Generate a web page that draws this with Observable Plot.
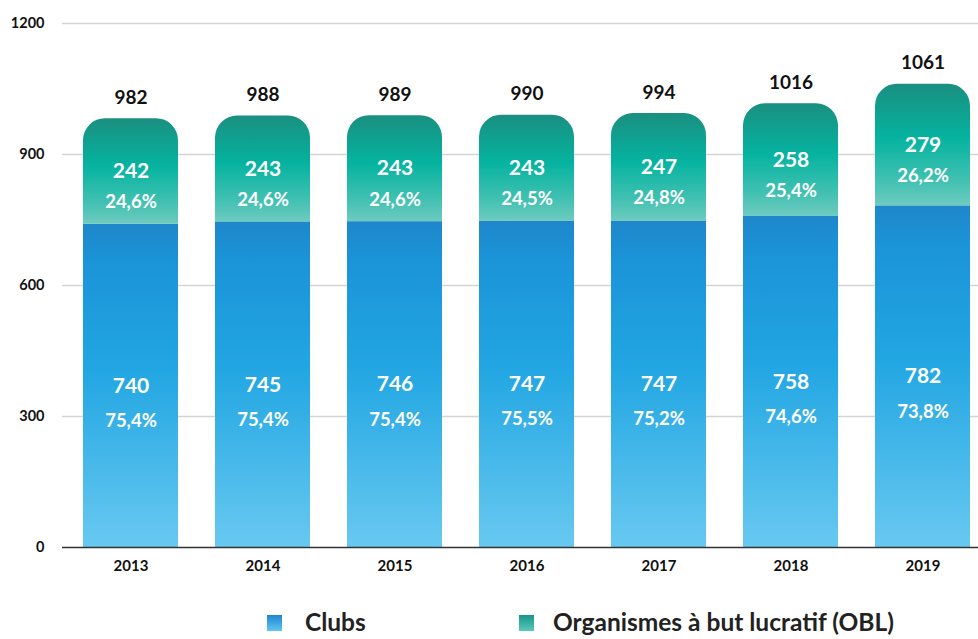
<!DOCTYPE html>
<html><head><meta charset="utf-8">
<script src="https://cdn.jsdelivr.net/npm/d3@7"></script>
<script src="https://cdn.jsdelivr.net/npm/@observablehq/plot@0.6"></script>
<style>
body{margin:0;background:#fff;overflow:hidden;font-family:Lato,sans-serif;}
#wrap{position:relative;width:978px;height:639px;overflow:hidden;background:#fff;}
.lg{position:absolute;font-weight:700;font-size:24.5px;color:#222;line-height:25px;white-space:nowrap;}
.sw{position:absolute;width:15px;height:16px;}
</style></head>
<body>
<div id="wrap">
  <div id="chart"></div>
  <div class="sw" style="left:267px;top:615px;background:linear-gradient(#1e86d0,#62c6f0);"></div>
  <div class="lg" id="lg1" style="left:305px;top:609px;"></div>
  <div class="sw" style="left:519px;top:615px;background:linear-gradient(#17958a,#5cc8bb);"></div>
  <div class="lg" id="lg2" style="left:553px;top:609px;"></div>
</div>
<script>
const years = ["2013","2014","2015","2016","2017","2018","2019"];
const clubs = [740,745,746,747,747,758,782];
const obl = [242,243,243,243,247,258,279];
const totals = [982,988,989,990,994,1016,1061];
const clubsPct = ["75,4%","75,4%","75,4%","75,5%","75,2%","74,6%","73,8%"];
const oblPct = ["24,6%","24,6%","24,6%","24,5%","24,8%","25,4%","26,2%"];
const yTicks = [0,300,600,900,1200];
const seriesNames = ["Clubs","Organismes à but lucratif (OBL)"];

document.getElementById("lg1").textContent = seriesNames[0];
document.getElementById("lg2").textContent = seriesNames[1];

const data = years.map((y,i)=>({year:y, clubs:clubs[i], obl:obl[i], total:totals[i], cp:clubsPct[i], op:oblPct[i]}));

function defs(){
  const d = d3.create("svg:defs");
  const mk = (id, stops) => {
    const g = d.append("linearGradient").attr("id", id).attr("x1",0).attr("y1",0).attr("x2",0).attr("y2",1);
    stops.forEach(([o,c]) => g.append("stop").attr("offset",o).attr("stop-color",c));
  };
  mk("gClubs", [[0,"#1e87ca"],[0.12,"#1b94d8"],[0.45,"#22a6e2"],[1,"#68c9f1"]]);
  mk("gObl", [[0,"#1a8f80"],[0.45,"#05b3a0"],[0.8,"#42c1b2"],[1,"#6ecbbf"]]);
  return d.node();
}

function roundTop(r){
  return (index, scales, values, dims, ctx, next) => {
    const g = next(index, scales, values, dims, ctx);
    d3.select(g).selectAll("rect").each(function(){
      const x=+this.getAttribute("x"), y=+this.getAttribute("y"), w=+this.getAttribute("width"), h=+this.getAttribute("height");
      const p = document.createElementNS("http://www.w3.org/2000/svg","path");
      const rr = Math.min(r, w/2, h);
      p.setAttribute("d", `M${x},${y+h}V${y+rr}A${rr},${rr} 0 0 1 ${x+rr},${y}H${x+w-rr}A${rr},${rr} 0 0 1 ${x+w},${y+rr}V${y+h}Z`);
      const f = this.getAttribute("fill"); if (f) p.setAttribute("fill", f);
      this.replaceWith(p);
    });
    return g;
  };
}

const chart = Plot.plot({
  width: 978, height: 580,
  marginLeft: 62, marginRight: 0, marginTop: 23, marginBottom: 33,
  style: {fontFamily: "Lato, sans-serif", background: "white", color: "#111"},
  x: {domain: years, range: [62, 990], paddingInner: 0.283, paddingOuter: 0.143, axis: null},
  y: {domain: [0,1200], axis: null},
  marks: [
    defs,
    Plot.ruleY(yTicks.filter(t=>t>0), {stroke:"#d4d4d4", strokeWidth:1.3}),
    Plot.barY(data, {x:"year", y1:"clubs", y2:"total", fill:"url(#gObl)", render: roundTop(22)}),
    Plot.barY(data, {x:"year", y1:0, y2:"clubs", fill:"url(#gClubs)"}),
    Plot.ruleY([0], {stroke:"#333", strokeWidth:1.6}),
    Plot.axisY({ticks: yTicks, tickFormat: d=>String(d), tickSize:0, tickPadding:18, fontSize:14.5, fontWeight:700, label:null, fill:"#111"}),
    Plot.axisX({tickSize:0, tickPadding:13, fontSize:15, fontWeight:700, label:null, fill:"#111"}),
    Plot.text(data, {x:"year", y:"total", text:d=>String(d.total), dy:-21, fontSize:19, fontWeight:700, fill:"#111"}),
    Plot.text(data, {x:"year", y:d=>(d.clubs+d.total)/2, text:d=>String(d.obl), fontSize:21, fontWeight:700, fill:"white"}),
    Plot.text(data, {x:"year", y:d=>(d.clubs+d.total)/2, text:"op", dy:31, fontSize:18.5, fontWeight:700, fill:"white"}),
    Plot.text(data, {x:"year", y:d=>d.clubs/2, text:d=>String(d.clubs), fontSize:21, fontWeight:700, fill:"white"}),
    Plot.text(data, {x:"year", y:d=>d.clubs/2, text:"cp", dy:35, fontSize:18.5, fontWeight:700, fill:"white"})
  ]
});
document.getElementById("chart").appendChild(chart);
</script>
</body></html>
